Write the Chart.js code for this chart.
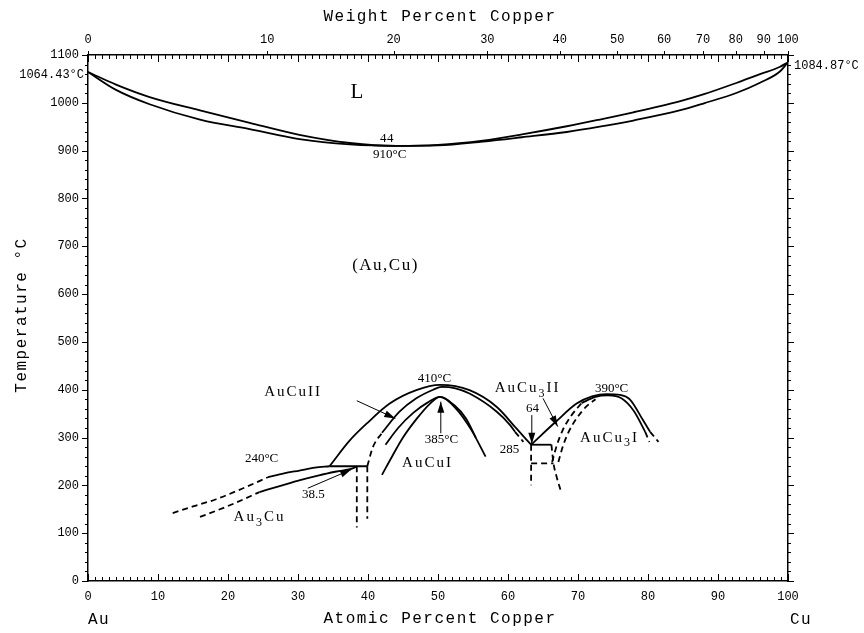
<!DOCTYPE html>
<html>
<head>
<meta charset="utf-8">
<script src="https://cdn.jsdelivr.net/npm/chart.js@4.4.1/dist/chart.umd.min.js"></script>
<style>
  body { margin: 0; background: #fff; }
  #wrap { width: 864px; height: 633px; }
</style>
</head>
<body>
<div id="wrap"><canvas id="grafico" width="864" height="633"></canvas></div>
<script>
// =========================
// DATA (atomic % Cu, °C)
// =========================
const liqAt = [0, 4, 8.8, 16, 23.1, 30.2, 37.4, 44, 50, 56.4, 62, 68.4, 73.1, 77.9, 84.5, 88, 92.7, 96, 98.8, 100];
const liqT  = [1064.43, 1038, 1012, 984, 958, 933, 916, 910, 912, 921, 934, 951, 965, 980, 1003, 1018, 1042, 1060, 1075, 1084.87];
const solAt = [0, 4, 8.8, 16, 23.1, 30.2, 37.4, 44, 50, 56.4, 62, 68.4, 73.1, 77.9, 84.5, 88, 92.7, 96, 98.8, 100];
const solT  = [1064.43, 1027, 997, 965, 945, 924, 913, 910, 911, 919, 928, 939, 950, 963, 984, 999, 1021, 1042, 1065, 1084.87];

// Au3Cu
const au3TopDashAt = [12.1, 15, 18.3, 22, 25.7];
const au3TopDashT  = [142, 156, 171, 193, 217];
const au3TopAt     = [25.7, 28, 30.2, 32.4, 34.5];
const au3TopT      = [217, 225, 231, 237, 240];
const au3BotDashAt = [16, 18.5, 21, 24.5];
const au3BotDashT  = [134, 148, 163, 186];
const au3BotAt     = [24.5, 27.5, 30.3, 33, 35.5, 37.9, 38.4];
const au3BotT      = [186, 199, 211, 221, 229, 236, 240];
const line240At    = [34.5, 39.9];
const line240T     = [240, 240];
const vertLAt      = [38.4, 38.4];
const vertLT       = [240, 112];
const vertRAt      = [39.9, 39.9];
const vertRT       = [240, 130];

// AuCu II
const arcAAt      = [34.5, 37.4, 39.8, 43.1, 46.9, 50.3, 54.5, 58.4, 61.2, 63.3];
const arcAT       = [240, 294, 329, 371, 399, 410, 399, 364, 319, 285];
const arcBDashAt  = [39.9, 40.7, 42.0];
const arcBDashT   = [240, 280, 310];
const arcBAt      = [42.0, 44.5, 46.9, 49.3, 50.5, 52.5, 54.5, 58.4, 60.3, 61.0];
const arcBT       = [310, 354, 382, 400, 406, 403, 392, 354, 326, 312];
const arcBDash2At = [61.0, 62.2];
const arcBDash2T  = [312, 291];

// AuCu I
const c1At = [42.5, 44.3, 46.5, 48.5, 50.3, 52.3, 54.0, 55.4];
const c1T  = [285, 320, 352, 373, 385, 368, 340, 300];
const c2At = [42.0, 43.5, 45.0, 47.0, 48.8, 50.3, 52.6, 54.8, 56.8];
const c2T  = [222, 262, 300, 340, 370, 385, 360, 315, 260];

// AuCu3
const box285At   = [63.3, 66.2];
const box285T    = [285, 285];
const boxLeftAt  = [63.3, 63.3];
const boxLeftT   = [285, 200];
const box246At   = [63.3, 66.5];
const box246T    = [246, 246];
const boxRightAt = [66.2, 66.5, 67.0, 67.6];
const boxRightT  = [285, 246, 215, 186];
const arcFAt     = [63.3, 66.9, 69.8, 72.0, 74.1, 76.0, 77.4, 79.3, 80.3];
const arcFT      = [285, 334, 371, 386, 391, 389, 380, 336, 312];
const arcFDashAt = [80.3, 81.5];
const arcFDashT  = [312, 291];
const arcGAt     = [70.5, 72.5, 74.3, 76.2, 78.0, 79.6];
const arcGT      = [372, 385, 388, 382, 355, 312];
const arcGDashAt = [79.6, 80.2];
const arcGDashT  = [312, 291];
const d1At       = [66.3, 67.0, 67.8, 69.0, 70.5];
const d1T        = [249, 285, 315, 345, 372];
const d2At       = [67.2, 67.8, 68.6, 69.8, 71.2, 72.5];
const d2T        = [249, 280, 310, 340, 365, 380];

// ticks
const atTicks = [0, 10, 20, 30, 40, 50, 60, 70, 80, 90, 100];
const wtTicks = [0, 10, 20, 30, 40, 50, 60, 70, 80, 90, 100];
const tempTicks = [0, 100, 200, 300, 400, 500, 600, 700, 800, 900, 1000, 1100];

// labels inside plot (text, at%, °C)
const NUM = 13, PHASE = 15;
const labels = [
  { t: "L",        x: 38.4, y: 1022, s: 21, ls: 0 },
  { t: "44",       x: 42.7, y: 926,  s: NUM, ls: 0.5 },
  { t: "910°C",    x: 43.1, y: 892,  s: NUM, ls: 0 },
  { t: "(Au,Cu)",  x: 42.5, y: 660,  s: 17, ls: 1.5 },
  { t: "AuCuII",   x: 29.3, y: 395,  s: PHASE, ls: 2 },
  { t: "240°C",    x: 24.8, y: 255,  s: NUM, ls: 0 },
  { t: "38.5",     x: 32.2, y: 180,  s: NUM, ls: 0 },
  { t: "Au_3Cu",   x: 24.5, y: 133,  s: PHASE, ls: 2 },
  { t: "410°C",    x: 49.5, y: 424,  s: NUM, ls: 0 },
  { t: "385°C",    x: 50.5, y: 295,  s: NUM, ls: 0 },
  { t: "AuCuI",    x: 48.5, y: 246,  s: PHASE, ls: 2 },
  { t: "AuCu_3II", x: 62.8, y: 403,  s: PHASE, ls: 2 },
  { t: "64",       x: 63.5, y: 361,  s: NUM, ls: 0 },
  { t: "285",      x: 60.2, y: 274,  s: NUM, ls: 0 },
  { t: "390°C",    x: 74.8, y: 403,  s: NUM, ls: 0 },
  { t: "AuCu_3I",  x: 74.5, y: 299,  s: PHASE, ls: 2 }
];

// arrows (from at%, °C -> to at%, °C)
const arrows = [
  [38.4, 377, 43.9, 340],
  [31.4, 194, 37.6, 233],
  [50.4, 309, 50.4, 375],
  [63.4, 347, 63.4, 287],
  [65.0, 382, 67.1, 323]
];

function wtToAt(w) {
  const cu = w / 63.546, au = (100 - w) / 196.967;
  return 100 * cu / (cu + au);
}

// =========================
// DATASETS
// =========================
function serie(at, t, dashed, straight) {
  return {
    data: at.map((x, i) => ({ x, y: t[i] })),
    showLine: true,
    borderColor: "#000",
    borderWidth: 1.8,
    borderDash: dashed ? [6, 4] : [],
    pointRadius: 0,
    tension: straight ? 0 : 0.4,
    cubicInterpolationMode: straight ? "default" : "monotone",
    xAxisID: "x",
    yAxisID: "y"
  };
}

const datasets = [
  serie(liqAt, liqT), serie(solAt, solT),
  serie(au3TopDashAt, au3TopDashT, true), serie(au3TopAt, au3TopT),
  serie(au3BotDashAt, au3BotDashT, true), serie(au3BotAt, au3BotT),
  serie(line240At, line240T, false, true),
  serie(vertLAt, vertLT, true, true), serie(vertRAt, vertRT, true, true),
  serie(arcAAt, arcAT),
  serie(arcBDashAt, arcBDashT, true), serie(arcBAt, arcBT), serie(arcBDash2At, arcBDash2T, true, true),
  serie(c1At, c1T), serie(c2At, c2T),
  serie(box285At, box285T, false, true), serie(boxLeftAt, boxLeftT, true, true),
  serie(box246At, box246T, true, true), serie(boxRightAt, boxRightT, true),
  serie(arcFAt, arcFT), serie(arcFDashAt, arcFDashT, true, true),
  serie(arcGAt, arcGT), serie(arcGDashAt, arcGDashT, true, true),
  serie(d1At, d1T, true), serie(d2At, d2T, true)
];

// =========================
// TEXT / TICKS PLUGIN
// =========================
function drawRich(ctx, str, cx, cy, size, family, ls) {
  const parts = [];
  let buf = "";
  for (let i = 0; i < str.length; i++) {
    if (str[i] === "_") {
      if (buf) parts.push([buf, false]);
      buf = "";
      parts.push([str[++i], true]);
    } else buf += str[i];
  }
  if (buf) parts.push([buf, false]);
  ctx.letterSpacing = ls + "px";
  const fontOf = sub => `${sub ? Math.round(size * 0.8) : size}px ${family}`;
  let w = 0;
  parts.forEach(p => { ctx.font = fontOf(p[1]); w += ctx.measureText(p[0]).width; });
  let x = cx - w / 2;
  parts.forEach(p => {
    ctx.font = fontOf(p[1]);
    ctx.fillText(p[0], x, cy + (p[1] ? size * 0.35 : 0));
    x += ctx.measureText(p[0]).width;
  });
  ctx.letterSpacing = "0px";
}

const extras = {
  id: "extras",
  afterDraw(chart) {
    const ctx = chart.ctx, a = chart.chartArea;
    const xs = chart.scales.x, ys = chart.scales.y;
    ctx.save();
    ctx.strokeStyle = "#000";
    ctx.fillStyle = "#000";
    ctx.lineWidth = 1;
    ctx.setLineDash([]);

    // minor / major ticks
    ctx.beginPath();
    for (let v = 0; v <= 100; v++) {
      const px = Math.round(xs.getPixelForValue(v)) + 0.5;
      const len = v % 10 === 0 ? 7 : 4;
      ctx.moveTo(px, a.bottom); ctx.lineTo(px, a.bottom - len);
      ctx.moveTo(px, a.top);    ctx.lineTo(px, a.top + len);
    }
    for (let t = 0; t <= 1100; t += 20) {
      const py = Math.round(ys.getPixelForValue(t)) + 0.5;
      const len = t % 100 === 0 ? 6 : 3;
      ctx.moveTo(a.left, py);  ctx.lineTo(a.left - len, py);
      ctx.moveTo(a.right, py); ctx.lineTo(a.right + len, py);
    }
    wtTicks.forEach(w => {
      const px = Math.round(xs.getPixelForValue(wtToAt(w))) + 0.5;
      ctx.moveTo(px, a.top); ctx.lineTo(px, a.top - 4);
    });
    ctx.stroke();

    // arrows
    ctx.lineWidth = 1;
    arrows.forEach(([x0, y0, x1, y1]) => {
      const p0x = xs.getPixelForValue(x0), p0y = ys.getPixelForValue(y0);
      const p1x = xs.getPixelForValue(x1), p1y = ys.getPixelForValue(y1);
      const ang = Math.atan2(p1y - p0y, p1x - p0x);
      ctx.beginPath();
      ctx.moveTo(p0x, p0y); ctx.lineTo(p1x, p1y);
      ctx.stroke();
      ctx.beginPath();
      ctx.moveTo(p1x, p1y);
      ctx.lineTo(p1x - 11 * Math.cos(ang) + 3.5 * Math.sin(ang), p1y - 11 * Math.sin(ang) - 3.5 * Math.cos(ang));
      ctx.lineTo(p1x - 11 * Math.cos(ang) - 3.5 * Math.sin(ang), p1y - 11 * Math.sin(ang) + 3.5 * Math.cos(ang));
      ctx.closePath();
      ctx.fill();
    });

    // labels
    ctx.textBaseline = "middle";
    ctx.textAlign = "left";
    labels.forEach(l => {
      drawRich(ctx, l.t, xs.getPixelForValue(l.x), ys.getPixelForValue(l.y), l.s, '"Liberation Serif"', l.ls);
    });

    // end-point temperatures
    ctx.font = '12px "Liberation Mono"';
    ctx.textAlign = "right";
    ctx.fillText("1064.43°C", a.left - 4, ys.getPixelForValue(1064.43) + 3);
    ctx.textAlign = "left";
    ctx.fillText("1084.87°C", a.right + 6, ys.getPixelForValue(1084.87) + 4);

    // axis titles
    ctx.font = '16px "Liberation Mono"';
    ctx.letterSpacing = "1.5px";
    ctx.textAlign = "center";
    ctx.fillText("Weight Percent Copper", 440, 17);
    ctx.fillText("Atomic Percent Copper", 440, 619);
    ctx.fillText("Au", 99, 620);
    ctx.fillText("Cu", 801, 620);
    ctx.translate(22, 315);
    ctx.rotate(-Math.PI / 2);
    ctx.fillText("Temperature °C", 0, 0);
    ctx.restore();
  }
};

// =========================
// CHART
// =========================
const tickFont = { family: "Liberation Mono", size: 12 };
const noGrid = { display: false, drawTicks: false };
const frame = { display: true, color: "#000", width: 1.5 };

new Chart(document.getElementById("grafico"), {
  type: "scatter",
  data: { datasets },
  options: {
    responsive: false,
    animation: false,
    devicePixelRatio: 1,
    layout: { padding: 0 },
    plugins: { legend: { display: false }, tooltip: { enabled: false } },
    scales: {
      x: {
        type: "linear", position: "bottom", min: 0, max: 100,
        afterBuildTicks: s => { s.ticks = atTicks.map(v => ({ value: v })); },
        afterFit: s => { s.height = 52; },
        ticks: { font: tickFont, color: "#000", padding: 9, maxRotation: 0, autoSkip: false,
                 callback: v => String(v) },
        grid: noGrid, border: frame
      },
      x2: {
        type: "linear", position: "top", min: 0, max: 100,
        afterBuildTicks: s => { s.ticks = wtTicks.map(w => ({ value: wtToAt(w) })); },
        afterFit: s => { s.height = 55; },
        ticks: { font: tickFont, color: "#000", padding: 8, maxRotation: 0, autoSkip: false,
                 callback: (v, i) => String(wtTicks[i]) },
        grid: noGrid, border: frame
      },
      y: {
        type: "linear", position: "left", min: 0, max: 1100,
        afterBuildTicks: s => { s.ticks = tempTicks.map(v => ({ value: v })); },
        afterFit: s => { s.width = 88; },
        ticks: { font: tickFont, color: "#000", padding: 9, callback: v => String(v) },
        grid: noGrid, border: frame
      },
      y2: {
        type: "linear", position: "right", min: 0, max: 1100,
        afterFit: s => { s.width = 76; },
        ticks: { display: false },
        grid: noGrid, border: frame
      }
    }
  },
  plugins: [extras]
});
</script>
</body>
</html>
